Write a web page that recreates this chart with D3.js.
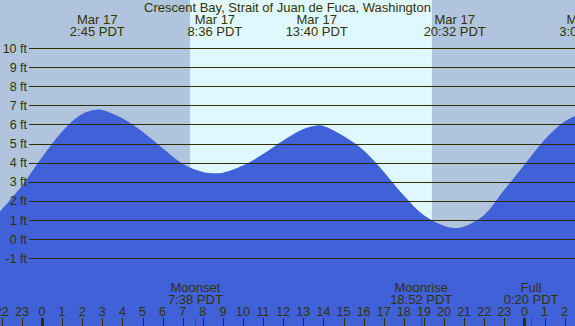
<!DOCTYPE html>
<html>
<head>
<meta charset="utf-8">
<script src="https://cdn.jsdelivr.net/npm/d3@7/dist/d3.min.js"></script>
<style>
  html, body { margin: 0; padding: 0; background: #fff; }
  svg { display: block; font-family: "Liberation Sans", Arial, sans-serif; }
  text { fill: #333300; }
</style>
</head>
<body>
<div id="chart"></div>
<script>
const W = 575, H = 326;
const title = 'Crescent Bay, Strait of Juan de Fuca, Washington';

// tide curve, hours from Mar 17 00:00 PDT -> height in ft
const tideHour = [-2.1, -1, 0, 1, 2, 2.75, 3, 4, 5, 6, 7, 8, 8.6, 9, 10, 11, 12, 13, 13.67, 14, 15, 16, 17, 18, 19, 20, 20.53, 21, 22, 23, 24, 25, 26, 27.1];
const tideFt   = [1.43, 2.79, 4.28, 5.63, 6.55, 6.78, 6.76, 6.32, 5.62, 4.76, 3.95, 3.52, 3.45, 3.48, 3.85, 4.45, 5.16, 5.76, 5.95, 5.92, 5.4, 4.65, 3.53, 2.29, 1.25, 0.7, 0.58, 0.66, 1.27, 2.58, 3.89, 5.2, 6.16, 6.7];

// highs / lows shown at the top
const extHour  = [2.75, 8.6, 13.667, 20.533, 27.1];
const extDate  = ['Mar 17', 'Mar 17', 'Mar 17', 'Mar 17', 'Mar 18'];
const extTime  = ['2:45 PDT', '8:36 PDT', '13:40 PDT', '20:32 PDT', '3:06 PDT'];

// sun
const sunrise = 7.367, sunset = 19.4;

// moon events at the bottom
const moonHour  = [7.633, 18.867, 24.333];
const moonName  = ['Moonset', 'Moonrise', 'Full'];
const moonTime  = ['7:38 PDT', '18:52 PDT', '0:20 PDT'];

const ftTicks = d3.range(-1, 11);
const hourTicks = d3.range(-2, 27);

const x = d3.scaleLinear().domain([0, 24]).range([42, 524.4]);
const y = d3.scaleLinear().domain([-1, 10]).range([258.3, 48]);

const svg = d3.select('#chart').append('svg')
  .attr('width', W)
  .attr('height', H);

// night / day background
svg.append('rect')
  .attr('x', 0).attr('y', 0)
  .attr('width', W).attr('height', H)
  .attr('fill', '#b0c4de');

svg.append('rect')
  .attr('x', x(sunrise)).attr('y', 0)
  .attr('width', x(sunset) - x(sunrise)).attr('height', H)
  .attr('fill', '#dff8ff');

// tide area
const tide = tideHour.map((h, i) => ({ h: h, v: tideFt[i] }));
const area = d3.area()
  .x(d => x(d.h))
  .y0(H)
  .y1(d => y(d.v))
  .curve(d3.curveCatmullRom.alpha(0.5));

svg.append('path')
  .datum(tide)
  .attr('d', area)
  .attr('fill', '#4161d8');

// grid lines + ft labels
svg.selectAll('.grid')
  .data(ftTicks)
  .enter()
  .append('line')
    .attr('class', 'grid')
    .attr('x1', 29).attr('x2', W)
    .attr('y1', d => Math.round(y(d)) + 0.5)
    .attr('y2', d => Math.round(y(d)) + 0.5)
    .attr('stroke', '#2e2e00')
    .attr('stroke-width', 1.2);

svg.selectAll('.ftlabel')
  .data(ftTicks)
  .enter()
  .append('text')
    .attr('class', 'ftlabel')
    .attr('x', 27)
    .attr('y', d => y(d) + 4.5)
    .attr('text-anchor', 'end')
    .style('font-size', '12.5px')
    .text(d => `${d} ft`);

// title
svg.append('text')
  .attr('x', 287.5).attr('y', 11.5)
  .attr('text-anchor', 'middle')
  .style('font-size', '13px')
  .text(title);

// high / low labels
const ext = svg.selectAll('.ext')
  .data(extHour)
  .enter()
  .append('g')
    .attr('class', 'ext');

ext.append('text')
  .attr('x', d => x(d)).attr('y', 23.5)
  .attr('text-anchor', 'middle')
  .style('font-size', '13px')
  .text((d, i) => extDate[i]);

ext.append('text')
  .attr('x', d => x(d)).attr('y', 35.5)
  .attr('text-anchor', 'middle')
  .style('font-size', '13px')
  .text((d, i) => extTime[i]);

// hour ticks
svg.selectAll('.tick')
  .data(hourTicks)
  .enter()
  .append('line')
    .attr('class', 'tick')
    .attr('x1', d => Math.round(x(d)) + 0.5)
    .attr('x2', d => Math.round(x(d)) + 0.5)
    .attr('y1', 318).attr('y2', H)
    .attr('stroke', '#2e2e00')
    .attr('stroke-width', d => (d % 24 === 0 ? 3 : 1));

svg.selectAll('.hourlabel')
  .data(hourTicks)
  .enter()
  .append('text')
    .attr('class', 'hourlabel')
    .attr('x', d => x(d))
    .attr('y', 316)
    .attr('text-anchor', 'middle')
    .style('font-size', '12.5px')
    .text(d => (d + 24) % 24);

// moon events
svg.selectAll('.moontick')
  .data(moonHour)
  .enter()
  .append('line')
    .attr('class', 'moontick')
    .attr('x1', d => Math.round(x(d)) + 0.5)
    .attr('x2', d => Math.round(x(d)) + 0.5)
    .attr('y1', 318).attr('y2', H)
    .attr('stroke', '#ff0000')
    .attr('stroke-width', 1);

const moon = svg.selectAll('.moon')
  .data(moonHour)
  .enter()
  .append('g')
    .attr('class', 'moon');

moon.append('text')
  .attr('x', d => x(d)).attr('y', 291.5)
  .attr('text-anchor', 'middle')
  .style('font-size', '13px')
  .text((d, i) => moonName[i]);

moon.append('text')
  .attr('x', d => x(d)).attr('y', 303.5)
  .attr('text-anchor', 'middle')
  .style('font-size', '13px')
  .text((d, i) => moonTime[i]);
</script>
</body>
</html>
